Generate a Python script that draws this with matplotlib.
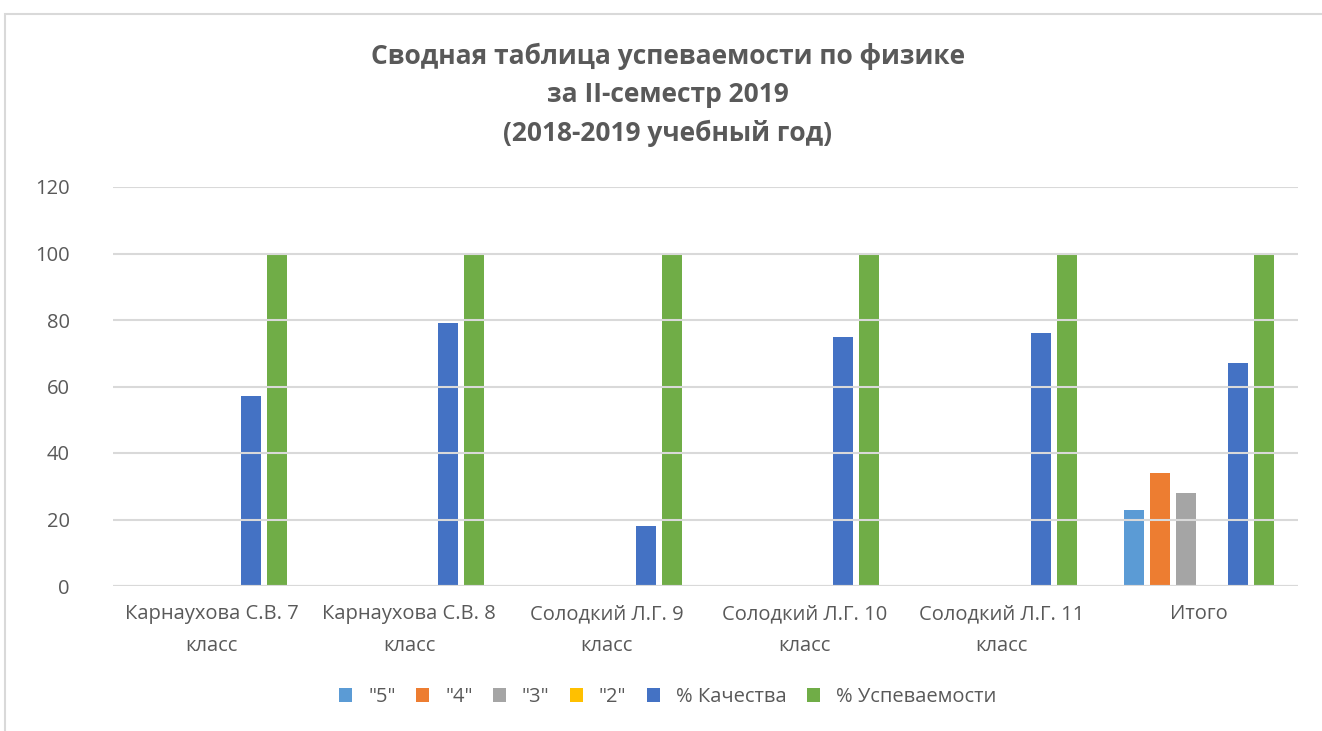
import matplotlib
matplotlib.use("Agg")
import matplotlib.pyplot as plt
import numpy as np
from matplotlib.patches import Rectangle

categories = ["Карнаухова С.В. 7\nкласс", "Карнаухова С.В. 8\nкласс", "Солодкий Л.Г. 9\nкласс",
              "Солодкий Л.Г. 10\nкласс", "Солодкий Л.Г. 11\nкласс", "Итого"]
series_names = ['"5"', '"4"', '"3"', '"2"', '% Качества', '% Успеваемости']
grade5 = [0, 0, 0, 0, 0, 23]
grade4 = [0, 0, 0, 0, 0, 34]
grade3 = [0, 0, 0, 0, 0, 28]
grade2 = [0, 0, 0, 0, 0, 0]
quality = [57, 79, 18, 75, 76, 67]
success = [100, 100, 100, 100, 100, 100]
yticks = [0, 20, 40, 60, 80, 100, 120]
colors = ["#5B9BD5", "#ED7D31", "#A5A5A5", "#FFC000", "#4472C4", "#70AD47"]

plt.rcParams['font.family'] = ['Open Sans', 'DejaVu Sans']

fig = plt.figure(figsize=(13.22, 7.31), dpi=100)
fig.patches.append(Rectangle((5/1322, -0.01), 1.0, 1 - 14/731 + 0.01, transform=fig.transFigure,
                             fill=False, edgecolor="#D9D9D9", linewidth=1.5))
ax = fig.add_axes([113/1322, 1 - 586/731, (1298-113)/1322, (586-187)/731])

x = np.arange(len(categories))
spacing = 0.1317
width = 0.101
all_series = [grade5, grade4, grade3, grade2, quality, success]
for i, (vals, name, c) in enumerate(zip(all_series, series_names, colors)):
    ax.bar(x + (i - 2.5) * spacing, vals, width=width, color=c, label=name, zorder=2)

ax.set_xlim(-0.5, len(categories) - 0.5)
ax.set_ylim(0, 120)
ax.set_yticks(yticks)
ax.set_xticks(x)
ax.set_xticklabels(categories, fontsize=14.5, color="#595959", linespacing=1.8)
ax.tick_params(axis='y', labelsize=14.5, labelcolor="#595959", length=0, pad=31)
ax.tick_params(axis='x', length=0, pad=13)
ax.yaxis.grid(True, color="#D9D9D9", linewidth=1.5, zorder=3)
ax.set_axisbelow(False)
for s in ax.spines.values():
    s.set_visible(False)
ax.axhline(0, color="#D9D9D9", linewidth=1.5, zorder=3)

fig.text(0.505, 1 - 95/731, "Сводная таблица успеваемости по физике\nза II-семестр 2019\n(2018-2019 учебный год)",
         ha="center", va="center", fontsize=19, fontweight="bold", color="#595959", linespacing=1.55)

leg = fig.legend(loc="center", bbox_to_anchor=(0.505, 1 - 697/731), ncol=6, frameon=False,
                 fontsize=14.5, handlelength=0.65, handleheight=0.65, columnspacing=1.0, handletextpad=0.8)
for t in leg.get_texts():
    t.set_color("#595959")

fig.savefig("out.png", dpi=100)
